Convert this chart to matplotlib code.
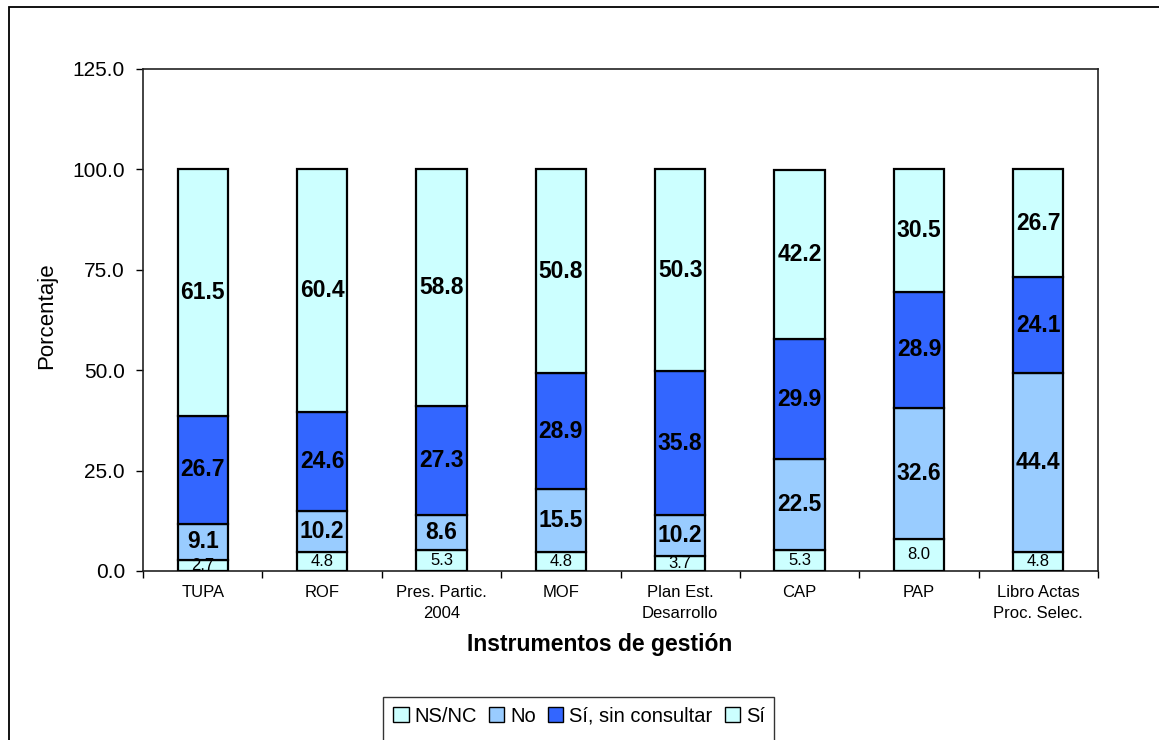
import matplotlib
matplotlib.use("Agg")
import matplotlib.pyplot as plt
from matplotlib.patches import Rectangle, Patch
import numpy as np

plt.rcParams['font.family'] = ['Liberation Sans', 'DejaVu Sans']

categories = ["TUPA", "ROF", "Pres. Partic.\n2004", "MOF", "Plan Est.\nDesarrollo",
              "CAP", "PAP", "Libro Actas\nProc. Selec."]
ns_nc = [2.7, 4.8, 5.3, 4.8, 3.7, 5.3, 8.0, 4.8]
no = [9.1, 10.2, 8.6, 15.5, 10.2, 22.5, 32.6, 44.4]
si_sin = [26.7, 24.6, 27.3, 28.9, 35.8, 29.9, 28.9, 24.1]
si = [61.5, 60.4, 58.8, 50.8, 50.3, 42.2, 30.5, 26.7]

series = [("NS/NC", ns_nc, "#CCFFFF", False),
          ("No", no, "#99CCFF", True),
          ("Sí, sin consultar", si_sin, "#3366FF", True),
          ("Sí", si, "#CCFFFF", True)]

W, H = 1159, 740
fig = plt.figure(figsize=(W / 100, H / 100), dpi=100)
ax = fig.add_axes([143 / W, (H - 571) / H, (1098 - 143) / W, (571 - 69) / H])

x = np.arange(len(categories))
bottom = np.zeros(len(categories))
for name, vals, color, bold in series:
    vals = np.array(vals)
    ax.bar(x, vals, 0.42, bottom=bottom, color=color, edgecolor="black",
           linewidth=1.6, label=name, zorder=3)
    for xi, b, v in zip(x, bottom, vals):
        if bold:
            ax.text(xi, b + v / 2, f"{v:.1f}", ha="center", va="center",
                    fontsize=16.5, fontweight="bold", zorder=4)
        else:
            ax.text(xi, b + v / 2, f"{v:.1f}", ha="center", va="center",
                    fontsize=12, zorder=4)
    bottom = bottom + vals

ax.set_xlim(-0.5, len(categories) - 0.5)
ax.set_ylim(0, 125)
ax.set_yticks([0, 25, 50, 75, 100, 125])
ax.set_yticklabels([f"{v:.1f}" for v in [0, 25, 50, 75, 100, 125]], fontsize=15)
ax.set_xticks(x)
ax.set_xticklabels(categories, fontsize=12, linespacing=1.5)
ax.set_xticks(np.arange(-0.5, len(categories), 1), minor=True)
ax.tick_params(axis="x", which="major", length=0, pad=10)
ax.tick_params(axis="x", which="minor", length=5, direction="out", width=1)
ax.tick_params(axis="y", length=5, direction="out", width=1, pad=8)
for s in ax.spines.values():
    s.set_linewidth(1.2)
    s.set_color("#222222")

fig.text(600 / W, 1 - 645 / H, "Instrumentos de gestión", ha="center", va="center",
         fontsize=16.5, fontweight="bold")
fig.text(47 / W, 1 - 316 / H, "Porcentaje", ha="center", va="center",
         rotation=90, fontsize=16)

# outer frame
fig.patches.append(Rectangle((9 / W, -0.1), 1.2, 1 - 7 / H + 0.1, transform=fig.transFigure,
                             fill=False, edgecolor="black", linewidth=1.3))
# legend frame
fig.patches.append(Rectangle((383 / W, -0.1), (774 - 383) / W, 1 - 697 / H + 0.1,
                             transform=fig.transFigure, fill=False,
                             edgecolor="#333333", linewidth=1.0))
handles = [Patch(facecolor=c, edgecolor="black", linewidth=1.0) for _, _, c, _ in series]
labels = [n for n, _, _, _ in series]
fig.legend(handles, labels, loc="center", bbox_to_anchor=(579 / W, 1 - 716 / H),
           ncol=4, frameon=False, fontsize=14.5, handlelength=0.75, handleheight=0.75,
           handletextpad=0.3, columnspacing=0.6, borderpad=0)

fig.savefig("out.png", dpi=100)
